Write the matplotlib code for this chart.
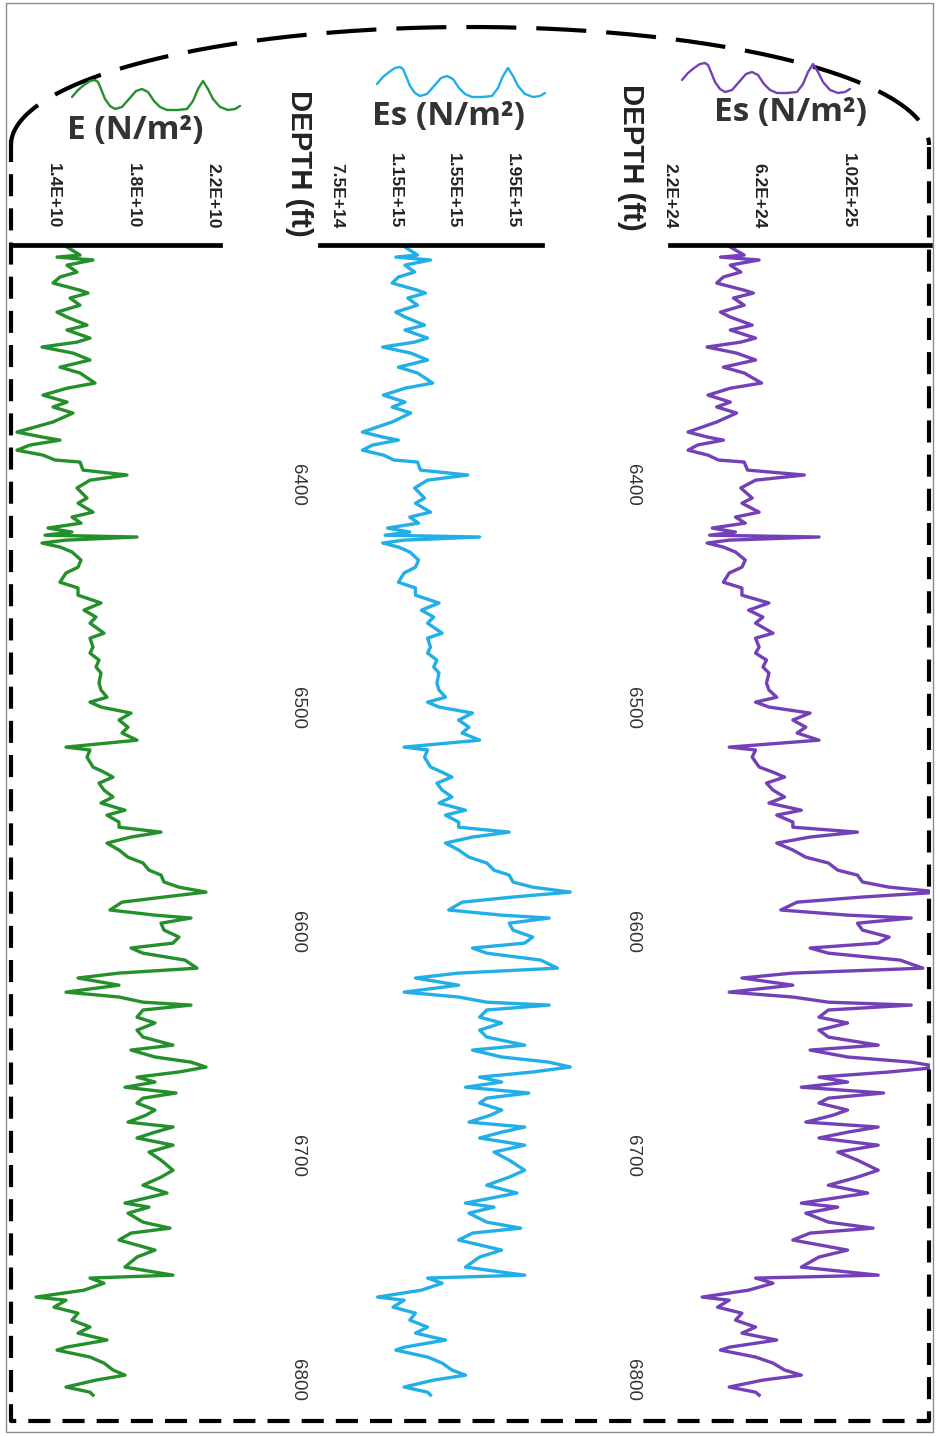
import numpy as np
import matplotlib
matplotlib.use("Agg")
from matplotlib import pyplot as plt
from matplotlib import font_manager
from matplotlib.patches import Rectangle

# depth (ft) and the three log curves
depth = [
    6300.3, 6303.9, 6304.8, 6306.1, 6308.4, 6311.5, 6313.7, 6316.4, 6319.6, 6320.9,
    6323.1, 6326.3, 6329.4, 6331.6, 6335.2, 6337.4, 6341.0, 6342.8, 6345.0, 6347.7,
    6350.8, 6354.0, 6356.6, 6361.1, 6363.4, 6366.5, 6369.6, 6371.8, 6374.5, 6378.5,
    6383.0, 6385.3, 6386.6, 6388.8, 6391.1, 6393.3, 6395.5, 6396.4, 6400.0, 6402.2,
    6404.5, 6408.0, 6412.5, 6414.8, 6418.8, 6421.0, 6423.7, 6425.9, 6427.7, 6429.1,
    6429.9, 6431.3, 6432.6, 6434.4, 6436.6, 6440.2, 6443.4, 6446.0, 6450.1, 6452.7,
    6455.9, 6459.4, 6462.6, 6465.7, 6468.4, 6472.9, 6475.1, 6479.1, 6481.8, 6484.9,
    6488.0, 6490.7, 6495.2, 6498.3, 6501.5, 6503.7, 6505.9, 6508.6, 6511.7, 6514.9,
    6517.5, 6520.7, 6523.8, 6525.1, 6528.3, 6532.7, 6535.0, 6537.2, 6539.9, 6543.0,
    6546.1, 6548.8, 6552.0, 6554.2, 6557.3, 6559.6, 6561.8, 6564.0, 6566.7, 6569.8,
    6573.0, 6575.6, 6578.8, 6581.0, 6584.1, 6586.4, 6588.6, 6590.8, 6593.1, 6596.6,
    6598.9, 6600.2, 6602.5, 6605.6, 6608.7, 6611.4, 6613.6, 6615.9, 6619.0, 6622.6,
    6624.8, 6627.0, 6630.2, 6633.3, 6635.5, 6637.8, 6639.1, 6641.3, 6644.5, 6647.1,
    6650.3, 6653.4, 6657.0, 6659.2, 6662.3, 6664.6, 6666.8, 6669.0, 6671.3, 6673.5,
    6675.8, 6678.4, 6680.7, 6682.9, 6686.0, 6688.3, 6691.4, 6693.6, 6695.9, 6698.5,
    6701.7, 6704.8, 6708.4, 6712.9, 6716.0, 6719.6, 6723.1, 6727.6, 6729.4, 6732.1,
    6736.1, 6738.8, 6741.0, 6744.1, 6748.6, 6751.7, 6756.2, 6759.8, 6761.1, 6763.4,
    6766.5, 6769.6, 6771.0, 6774.1, 6776.8, 6779.9, 6783.0, 6785.7, 6788.8, 6792.0,
    6793.3, 6796.4, 6799.1, 6802.2, 6804.5, 6806.7, 6809.8, 6812.1, 6813.4]

# E, units of 1e10 N/m2
e_green = [
    1.470, 1.535, 1.420, 1.600, 1.470, 1.520, 1.435, 1.400, 1.535, 1.575,
    1.485, 1.535, 1.420, 1.470, 1.570, 1.470, 1.585, 1.520, 1.345, 1.500,
    1.585, 1.435, 1.535, 1.610, 1.470, 1.350, 1.470, 1.400, 1.500, 1.400,
    1.220, 1.350, 1.435, 1.285, 1.220, 1.350, 1.410, 1.535, 1.550, 1.770,
    1.585, 1.520, 1.570, 1.525, 1.600, 1.495, 1.540, 1.375, 1.495, 1.360,
    1.820, 1.465, 1.345, 1.435, 1.495, 1.540, 1.525, 1.465, 1.435, 1.525,
    1.525, 1.640, 1.555, 1.615, 1.585, 1.655, 1.585, 1.600, 1.585, 1.630,
    1.615, 1.640, 1.630, 1.640, 1.670, 1.585, 1.640, 1.790, 1.730, 1.775,
    1.745, 1.820, 1.465, 1.585, 1.570, 1.600, 1.655, 1.700, 1.630, 1.655,
    1.700, 1.640, 1.760, 1.670, 1.730, 1.730, 1.940, 1.790, 1.670, 1.730,
    1.775, 1.850, 1.880, 1.940, 1.955, 2.030, 2.165, 1.955, 1.745, 1.685,
    1.910, 2.090, 1.940, 1.955, 2.030, 2.000, 1.790, 1.850, 2.060, 2.120,
    1.730, 1.525, 1.730, 1.465, 1.730, 1.850, 2.090, 1.850, 1.820, 1.910,
    1.820, 1.850, 2.000, 1.790, 1.910, 2.090, 2.165, 2.030, 1.820, 1.910,
    1.760, 2.015, 1.850, 1.820, 1.910, 1.865, 1.775, 2.000, 1.910, 1.820,
    2.000, 1.880, 1.940, 2.000, 1.940, 1.850, 1.970, 1.760, 1.880, 1.775,
    1.850, 1.985, 1.790, 1.730, 1.910, 1.820, 1.760, 2.000, 1.585, 1.655,
    1.555, 1.315, 1.465, 1.405, 1.525, 1.495, 1.585, 1.525, 1.670, 1.465,
    1.420, 1.585, 1.655, 1.700, 1.760, 1.615, 1.465, 1.585, 1.600]

# Es middle track, units of 1e15 N/m2
es_cyan = [
    1.216, 1.302, 1.153, 1.391, 1.216, 1.282, 1.171, 1.128, 1.302, 1.356,
    1.235, 1.302, 1.153, 1.216, 1.350, 1.216, 1.371, 1.282, 1.063, 1.255,
    1.371, 1.171, 1.302, 1.406, 1.216, 1.068, 1.216, 1.128, 1.255, 1.128,
    0.924, 1.068, 1.171, 0.994, 0.924, 1.068, 1.140, 1.302, 1.322, 1.647,
    1.371, 1.282, 1.350, 1.288, 1.391, 1.249, 1.309, 1.097, 1.249, 1.080,
    1.728, 1.210, 1.063, 1.171, 1.249, 1.309, 1.288, 1.210, 1.171, 1.288,
    1.288, 1.449, 1.329, 1.413, 1.371, 1.471, 1.371, 1.391, 1.371, 1.435,
    1.413, 1.449, 1.435, 1.449, 1.494, 1.371, 1.449, 1.679, 1.584, 1.655,
    1.608, 1.728, 1.210, 1.371, 1.350, 1.391, 1.471, 1.538, 1.435, 1.471,
    1.538, 1.449, 1.631, 1.494, 1.584, 1.584, 1.931, 1.679, 1.494, 1.584,
    1.655, 1.777, 1.827, 1.931, 1.957, 2.092, 2.350, 1.957, 1.608, 1.516,
    1.879, 2.205, 1.931, 1.957, 2.092, 2.037, 1.679, 1.777, 2.148, 2.262,
    1.584, 1.288, 1.584, 1.210, 1.584, 1.777, 2.205, 1.777, 1.728, 1.879,
    1.728, 1.777, 2.037, 1.679, 1.879, 2.205, 2.350, 2.092, 1.728, 1.879,
    1.631, 2.065, 1.777, 1.728, 1.879, 1.802, 1.655, 2.037, 1.879, 1.728,
    2.037, 1.827, 1.931, 2.037, 1.931, 1.777, 1.984, 1.631, 1.827, 1.655,
    1.777, 2.010, 1.679, 1.584, 1.879, 1.728, 1.631, 2.037, 1.371, 1.471,
    1.329, 1.028, 1.210, 1.134, 1.288, 1.249, 1.371, 1.288, 1.494, 1.210,
    1.153, 1.371, 1.471, 1.538, 1.631, 1.413, 1.210, 1.371, 1.391]

# Es right track, units of 1e24 N/m2
es_purple = [
    4.90, 5.52, 4.46, 6.19, 4.90, 5.37, 4.59, 4.29, 5.52, 5.93,
    5.04, 5.52, 4.46, 4.90, 5.88, 4.90, 6.03, 5.37, 3.86, 5.18,
    6.03, 4.59, 5.52, 6.30, 4.90, 3.90, 4.90, 4.29, 5.18, 4.29,
    3.01, 3.90, 4.59, 3.43, 3.01, 3.90, 4.37, 5.52, 5.67, 8.21,
    6.03, 5.37, 5.88, 5.42, 6.19, 5.13, 5.57, 4.09, 5.13, 3.97,
    8.87, 4.85, 3.86, 4.59, 5.13, 5.57, 5.42, 4.85, 4.59, 5.42,
    5.42, 6.63, 5.72, 6.36, 6.03, 6.81, 6.03, 6.19, 6.03, 6.52,
    6.36, 6.63, 6.52, 6.63, 6.98, 6.03, 6.63, 8.47, 7.70, 8.28,
    7.89, 8.87, 4.85, 6.03, 5.88, 6.19, 6.81, 7.33, 6.52, 6.81,
    7.33, 6.63, 8.08, 6.98, 7.70, 7.70, 10.59, 8.47, 6.98, 7.70,
    8.28, 9.29, 9.71, 10.59, 10.82, 12.01, 14.32, 10.82, 7.89, 7.16,
    10.15, 13.00, 10.59, 10.82, 12.01, 11.52, 8.47, 9.29, 12.50, 13.52,
    7.70, 5.42, 7.70, 4.85, 7.70, 9.29, 13.00, 9.29, 8.87, 10.15,
    8.87, 9.29, 11.52, 8.47, 10.15, 13.00, 14.32, 12.01, 8.87, 10.15,
    8.08, 11.76, 9.29, 8.87, 10.15, 9.50, 8.28, 11.52, 10.15, 8.87,
    11.52, 9.71, 10.59, 11.52, 10.59, 9.29, 11.05, 8.08, 9.71, 8.28,
    9.29, 11.29, 8.47, 7.70, 10.15, 8.87, 8.08, 11.52, 6.03, 6.81,
    5.72, 3.64, 4.85, 4.33, 5.42, 5.13, 6.03, 5.42, 6.98, 4.85,
    4.46, 6.03, 6.81, 7.33, 8.08, 6.36, 4.85, 6.03, 6.19]

depth_ticks = [6400, 6500, 6600, 6700, 6800]
green_ticks = [1.4, 1.8, 2.2]
green_labels = ["1.4E+10", "1.8E+10", "2.2E+10"]
cyan_ticks = [0.75, 1.15, 1.55, 1.95]
cyan_labels = ["7.5E+14", "1.15E+15", "1.55E+15", "1.95E+15"]
purple_ticks = [2.2, 6.2, 10.2]
purple_labels = ["2.2E+24", "6.2E+24", "1.02E+25"]
titles = ["E (N/m²)", "Es (N/m²)", "Es (N/m²)"]

# little wave icon drawn above each title (relative pixel offsets)
icon_dx = [0, 6, 12, 18, 23, 26, 29, 33, 38, 43, 50, 57, 64, 70, 76, 82, 88,
           95, 105, 115, 121, 126, 131, 136, 141, 148, 156, 163, 168]
icon_dy = [2, -5, -10, -14, -15, -13, -6, 4, 11, 14, 12, 4, -4, -6, -3, 6, 12,
           15, 15, 14, 6, -6, -14, -6, 4, 12, 15, 14, 11]

W, H = 936, 1436
names = {f.name for f in font_manager.fontManager.ttflist}
if "Liberation Sans Narrow" in names:
    narrow, k = "Liberation Sans Narrow", 1.0
else:
    narrow, k = "Liberation Sans", 0.86
title_font = "Open Sans" if "Open Sans" in names else "DejaVu Sans"

fig = plt.figure(figsize=(W / 100, H / 100), dpi=100)


def px_axes(x0, x1, y0, y1):
    return fig.add_axes([x0 / W, 1 - y1 / H, (x1 - x0) / W, (y1 - y0) / H])


tracks = [
    # x0, x1, values, colour, xlim, ticks, labels, clip, depth-label pad
    (12, 220, e_green, "#24902b", (1.195, 2.235), green_ticks, green_labels, True, None),
    (320, 542, es_cyan, "#22aee6", (0.633, 2.156), cyan_ticks, cyan_labels, False, 10),
    (670, 930, es_purple, "#7440b8", (2.333, 13.84), purple_ticks, purple_labels, True, 21),
]

for x0, x1, vals, col, xlim, ticks, labels, clip, pad in tracks:
    ax = px_axes(x0, x1, 245, 1415)
    ax.patch.set_alpha(0)
    ax.plot(vals, depth, color=col, lw=2.4, clip_on=clip, solid_joinstyle="round")
    ax.set_xlim(*xlim)
    ax.set_ylim(6822.3, 6299.4)
    for s in ["left", "right", "bottom"]:
        ax.spines[s].set_visible(False)
    ax.spines["top"].set_linewidth(3.4)
    ax.spines["top"].set_color("black")
    ax.xaxis.tick_top()
    ax.set_xticks(ticks)
    ax.set_xticklabels(labels, rotation=-90, fontsize=14.5 * k, fontweight="bold",
                       family=narrow, color="#222222")
    ax.tick_params(axis="x", length=0, pad=12)
    if pad is None:
        ax.set_yticks([])
    else:
        ax.set_yticks(depth_ticks)
        ax.set_yticklabels([str(d) for d in depth_ticks], rotation=-90, fontsize=13.5,
                           family="Liberation Sans", color="#333333")
        ax.tick_params(axis="y", length=0, pad=pad)

# overlay in pixel coordinates for frame, titles and icons
ov = fig.add_axes([0, 0, 1, 1], zorder=5)
ov.patch.set_alpha(0)
ov.set_xlim(0, W)
ov.set_ylim(H, 0)
ov.axis("off")

ov.add_patch(Rectangle((6, 3), 927, 1429, fill=False, ec="#8c8c8c", lw=1))

ov.plot([11, 11, 929, 929], [140, 1421, 1421, 140], color="black", lw=3,
        dashes=(5.3, 2.9), solid_capstyle="butt")
t = np.linspace(np.pi, 0, 200)
ov.plot(470 + 459 * np.cos(t), 145 - 118 * np.sin(t), color="black", lw=3,
        dashes=(12, 4.8))

title_pos = [(135, 130), (448, 117), (791, 112)]
icon_pos = [(72, 95), (377, 82), (682, 78)]
for (tx, ty), (ix, iy), txt, tr in zip(title_pos, icon_pos, titles, tracks):
    ov.text(tx, ty, txt, ha="center", va="center", fontsize=24, fontweight="bold",
            family=title_font, color="#333333")
    ov.plot([ix + d for d in icon_dx], [iy + d for d in icon_dy], color=tr[3], lw=1.7,
            solid_joinstyle="round", solid_capstyle="round")

for x, y in [(299, 163), (631, 157)]:
    ov.text(x, y, "DEPTH (ft)", rotation=-90, ha="center", va="center",
            fontsize=24.5 * k, fontweight="bold", family=narrow, color="#222222")

fig.savefig("out.png", dpi=100)
